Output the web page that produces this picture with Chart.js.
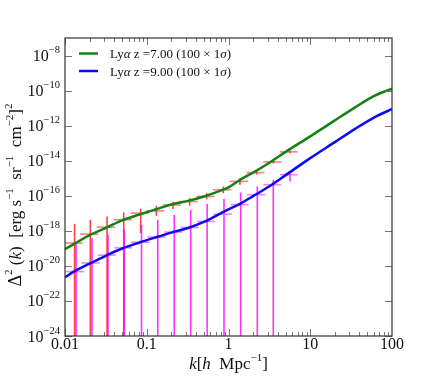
<!DOCTYPE html>
<html>
<head>
<meta charset="utf-8">
<script src="https://cdn.jsdelivr.net/npm/chart.js@4"></script>
<style>
  body { margin: 0; background: #fff; }
</style>
</head>
<body>
<canvas id="myChart" width="436" height="382"></canvas>
<script>
// model curves
const kCurve = [0.01, 0.013, 0.02, 0.032, 0.05, 0.08, 0.13, 0.2, 0.32, 0.5, 0.8, 1.0, 1.4, 2.0, 3.2, 5.0, 10, 20, 35, 60, 100];
const z7Curve = [8.9e-20, 1.82e-19, 5.6e-19, 1.51e-18, 3.98e-18, 8.3e-18, 1.7e-17, 3.2e-17, 5.1e-17, 9.1e-17, 1.95e-16, 3.0e-16, 8.3e-16, 2.1e-15, 7.9e-15, 3.2e-14, 2.45e-13, 2.0e-12, 1.07e-11, 4.9e-11, 1.29e-10];
const z9Curve = [2.24e-21, 4.9e-21, 1.35e-20, 3.9e-20, 9.8e-20, 2.1e-19, 4.3e-19, 7.9e-19, 1.45e-18, 3.2e-18, 1.0e-17, 1.66e-17, 3.6e-17, 9.5e-17, 3.6e-16, 1.51e-15, 1.41e-14, 1.15e-13, 6.3e-13, 2.9e-12, 8.9e-12];

// binned points with errors (lo = 0 means the bar runs off the bottom)
const z7K = [0.0131, 0.0204, 0.0327, 0.0523, 0.0843, 0.131, 0.209, 0.335, 0.541, 0.863, 1.38, 2.21, 3.55, 5.65];
const z7KErr = [0.0033, 0.0051, 0.0082, 0.013, 0.021, 0.033, 0.052, 0.084, 0.135, 0.22, 0.35, 0.55, 0.9, 1.4];
const z7Val = [2.0e-19, 6.5e-19, 1.62e-18, 4.3e-18, 1.02e-17, 1.38e-17, 2.95e-17, 4.7e-17, 9.1e-17, 2.2e-16, 6.6e-16, 2.1e-15, 8.5e-15, 3.2e-14];
const z7Hi = [2.5e-18, 4.3e-18, 6.6e-18, 1.12e-17, 1.82e-17, 2.7e-17, 4.6e-17, 7.4e-17, 1.41e-16, 3.4e-16, 1.0e-15, 2.8e-15, 1.07e-14, 3.8e-14];
const z7Lo = [0, 0, 0, 0, 7.4e-19, 7.2e-18, 1.74e-17, 2.7e-17, 6.2e-17, 1.41e-16, 4.2e-16, 1.6e-15, 6.8e-15, 2.6e-14];

const z9K = [0.01365, 0.0214, 0.0336, 0.0531, 0.0863, 0.1365, 0.217, 0.345, 0.548, 0.881, 1.41, 2.25, 3.53, 5.65];
const z9KErr = [0.0034, 0.0054, 0.0084, 0.013, 0.022, 0.034, 0.054, 0.086, 0.137, 0.22, 0.35, 0.56, 0.88, 1.4];
const z9Val = [4.7e-21, 1.48e-20, 4.1e-20, 1.07e-19, 2.24e-19, 4.4e-19, 8.5e-19, 1.55e-18, 3.4e-18, 8.9e-18, 3.1e-17, 1.15e-16, 4.3e-16, 1.6e-15];
const z9Hi = [1.82e-19, 3.8e-19, 5.9e-19, 1.15e-18, 2.2e-18, 4.3e-18, 8.1e-18, 1.58e-17, 3.5e-17, 6.8e-17, 1.55e-16, 3.4e-16, 8.1e-16, 2.45e-15];
const z9Lo = [0, 0, 0, 0, 0, 0, 0, 0, 0, 0, 0, 0, 0, 6.6e-16];

const seriesLabels = ["Lyα z =7.00 (100 × 1σ)", "Lyα z =9.00 (100 × 1σ)"];
const xTicks = [0.01, 0.1, 1, 10, 100];
const xTickLabels = ["0.01", "0.1", "1", "10", "100"];
const yTickExps = [-24, -22, -20, -18, -16, -14, -12, -10, -8];

const serif = '"Liberation Serif", "DejaVu Serif", serif';

const errSets = [
  { k: z7K, kErr: z7KErr, val: z7Val, hi: z7Hi, lo: z7Lo, vColor: "rgba(255,20,20,0.8)", hColor: "rgba(255,60,60,0.65)" },
  { k: z9K, kErr: z9KErr, val: z9Val, hi: z9Hi, lo: z9Lo, vColor: "rgba(255,0,255,0.8)", hColor: "rgba(255,40,255,0.6)" }
];

// draws a row of text pieces, some raised/smaller/italic
function drawRich(ctx, parts, x, y, align) {
  let w = 0;
  parts.forEach(p => {
    ctx.font = (p.it ? "italic " : "") + p.size + "px " + serif;
    p.w = ctx.measureText(p.t).width;
    w += p.w;
  });
  let cx = align === "right" ? x - w : align === "center" ? x - w / 2 : x;
  parts.forEach(p => {
    ctx.font = (p.it ? "italic " : "") + p.size + "px " + serif;
    ctx.fillText(p.t, cx, y - (p.rise || 0));
    cx += p.w;
  });
}

function sup(n) {
  return String(n).replace("-", "\u2212");
}

const errorBars = {
  id: "errorBars",
  beforeDatasetsDraw(chart) {
    const { ctx, chartArea: a, scales: { x, y } } = chart;
    ctx.save();
    ctx.beginPath();
    ctx.rect(a.left, a.top, a.right - a.left, a.bottom - a.top);
    ctx.clip();
    errSets.forEach(s => {
      s.k.forEach((k, i) => {
        const px = x.getPixelForValue(k);
        const top = y.getPixelForValue(s.hi[i]);
        const bot = s.lo[i] > 0 ? y.getPixelForValue(s.lo[i]) : a.bottom + 2;
        ctx.strokeStyle = s.vColor;
        ctx.lineWidth = 1.6;
        ctx.beginPath();
        ctx.moveTo(px, top);
        ctx.lineTo(px, bot);
        ctx.stroke();
        const py = y.getPixelForValue(s.val[i]);
        ctx.strokeStyle = s.hColor;
        ctx.lineWidth = 1.6;
        ctx.beginPath();
        ctx.moveTo(x.getPixelForValue(k - s.kErr[i]), py);
        ctx.lineTo(x.getPixelForValue(k + s.kErr[i]), py);
        ctx.stroke();
      });
    });
    ctx.restore();
  }
};

const frame = {
  id: "frame",
  afterDraw(chart) {
    const { ctx, chartArea: a, scales: { x, y } } = chart;
    ctx.save();
    // ticks, pointing inward on all four sides
    ctx.strokeStyle = "#777";
    ctx.lineWidth = 1;
    ctx.beginPath();
    for (let e = -2; e < 2; e++) {
      for (let m = 1; m < 10; m++) {
        const px = Math.round(x.getPixelForValue(m * Math.pow(10, e))) + 0.5;
        const len = m === 1 ? 7 : 4;
        ctx.moveTo(px, a.bottom);
        ctx.lineTo(px, a.bottom - len);
        ctx.moveTo(px, a.top);
        ctx.lineTo(px, a.top + len);
      }
    }
    yTickExps.forEach(e => {
      const py = Math.round(y.getPixelForValue(Math.pow(10, e))) + 0.5;
      ctx.moveTo(a.left, py);
      ctx.lineTo(a.left + 7, py);
      ctx.moveTo(a.right, py);
      ctx.lineTo(a.right - 7, py);
    });
    ctx.stroke();
    // box
    ctx.strokeStyle = "#333";
    ctx.lineWidth = 1.2;
    ctx.strokeRect(a.left, a.top, a.right - a.left, a.bottom - a.top);

    ctx.fillStyle = "#111";
    ctx.textBaseline = "alphabetic";
    // tick labels
    xTicks.forEach((v, i) => {
      drawRich(ctx, [{ t: xTickLabels[i], size: 16 }], x.getPixelForValue(v), a.bottom + 13, "center");
    });
    yTickExps.forEach(e => {
      const py = y.getPixelForValue(Math.pow(10, e));
      drawRich(ctx, [{ t: "10", size: 16 }, { t: sup(e), size: 10.5, rise: 8 }], a.left - 5, py + 5.5, "right");
    });
    // axis titles
    drawRich(ctx, [
      { t: "k", size: 17, it: true }, { t: "[", size: 17 }, { t: "h", size: 17, it: true },
      { t: "  Mpc", size: 17 }, { t: "\u22121", size: 11, rise: 8 }, { t: "]", size: 17 }
    ], (a.left + a.right) / 2, 369, "center");
    ctx.save();
    ctx.translate(21, (a.top + a.bottom) / 2 + 8);
    ctx.rotate(-Math.PI / 2);
    drawRich(ctx, [
      { t: "\u0394", size: 18 }, { t: "2", size: 11, rise: 9 }, { t: " (", size: 17 },
      { t: "k", size: 17, it: true }, { t: ")  [erg s", size: 17 }, { t: "\u22121", size: 11, rise: 8 },
      { t: "  sr", size: 17 }, { t: "\u22121", size: 11, rise: 8 }, { t: "  cm", size: 17 },
      { t: "\u22122", size: 11, rise: 8 }, { t: "]", size: 17 }, { t: "2", size: 11, rise: 9 }
    ], 0, 0, "center");
    ctx.restore();
    // legend
    chart.data.datasets.forEach((ds, i) => {
      const ly = a.top + 15.5 + i * 17.5;
      ctx.strokeStyle = ds.borderColor;
      ctx.lineWidth = 2.5;
      ctx.beginPath();
      ctx.moveTo(79, ly);
      ctx.lineTo(98, ly);
      ctx.stroke();
      const parts = ds.label.split(/([ασ])/).filter(t => t).map(t => ({ t: t, size: 13, it: t === "α" || t === "σ" }));
      drawRich(ctx, parts, 110, ly + 4.5, "left");
    });
    ctx.restore();
  }
};

const ctx = document.getElementById("myChart").getContext("2d");
const chart = new Chart(ctx, {
  type: "scatter",
  data: {
    datasets: [
      {
        label: seriesLabels[0],
        data: kCurve.map((k, i) => ({ x: k, y: z7Curve[i] })),
        showLine: true,
        borderColor: "#138213",
        borderWidth: 2.5,
        pointRadius: 0,
        cubicInterpolationMode: "monotone"
      },
      {
        label: seriesLabels[1],
        data: kCurve.map((k, i) => ({ x: k, y: z9Curve[i] })),
        showLine: true,
        borderColor: "#0a0af5",
        borderWidth: 2.5,
        pointRadius: 0,
        cubicInterpolationMode: "monotone"
      }
    ]
  },
  options: {
    responsive: false,
    animation: false,
    clip: { left: 0, top: 0, right: 0, bottom: 0 },
    layout: { padding: { left: 0, right: 44, top: 38, bottom: 0 } },
    plugins: { legend: { display: false }, tooltip: { enabled: false } },
    scales: {
      x: {
        type: "logarithmic",
        min: 0.01,
        max: 100,
        grid: { display: false },
        border: { display: false },
        ticks: { display: false },
        afterFit(s) { s.height = 46; }
      },
      y: {
        type: "logarithmic",
        min: 1e-24,
        max: 1e-7,
        grid: { display: false },
        border: { display: false },
        ticks: { display: false },
        afterFit(s) { s.width = 65; }
      }
    }
  },
  plugins: [errorBars, frame]
});
</script>
</body>
</html>
